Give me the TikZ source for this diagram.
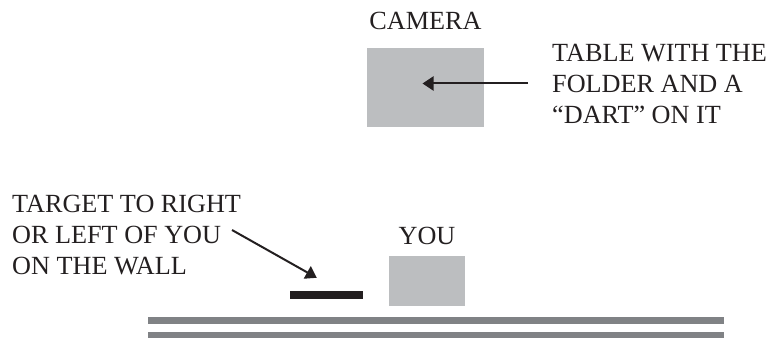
\documentclass[tikz,border=0pt]{standalone}
\usepackage{fontspec}
\setmainfont{Liberation Serif}
\usepackage{xcolor}
\definecolor{cBox}{HTML}{BCBEC0}
\definecolor{cWall}{HTML}{808285}
\definecolor{cInk}{HTML}{231F20}
\usepackage{tikz}
\usetikzlibrary{positioning,arrows.meta}
\tikzset{
  box-gray/.style={fill=cBox,draw=none,inner sep=0pt},
  lbl/.style={inner sep=0pt,text=cInk,font=\fontsize{26.2}{31}\selectfont},
  lbl-block/.style={lbl,align=left},
  bar-target/.style={fill=cInk,draw=none,inner sep=0pt,
    minimum width=73pt,minimum height=8pt},
  wall-line/.style={fill=cWall,draw=none,inner sep=0pt,
    minimum width=576pt,minimum height=6.5pt},
  arrow-point/.style={-{Triangle[length=11pt,width=14pt]},line width=2pt,draw=cInk},
}
\begin{document}
\begin{tikzpicture}[x=1pt,y=-1pt]
  \useasboundingbox (0,0) rectangle (769,339);
  % table with the camera on top
  \node[box-gray,minimum width=117pt,minimum height=79pt] (table) at (425.5,87.5) {};
  \node[lbl,above=18pt of table] (camlabel) {CAMERA};
  \node[lbl-block,anchor=west] (tabletext) at (552,83.5)
    {TABLE WITH THE\\FOLDER AND A\\“DART” ON IT};
  \draw[arrow-point] ([xshift=-24pt]tabletext.west) -- ([xshift=-3pt]tabletext.west -| table.center);
  % you and the target
  \node[box-gray,minimum width=76pt,minimum height=50pt] (you) at (427,281) {};
  \node[lbl,above=11pt of you] (youlabel) {YOU};
  \node[bar-target] (target) at (326.5,295) {};
  \node[lbl-block,anchor=west] (targettext) at (12,235)
    {TARGET TO RIGHT\\OR LEFT OF YOU\\ON THE WALL};
  \coordinate (tgtstart) at (232,230);
  \draw[arrow-point] (tgtstart) -- ([xshift=27pt,yshift=13pt]target.north west);
  % wall
  \node[wall-line] (wall1) at (436,320.5) {};
  \node[wall-line] (wall2) at (436,335) {};
\end{tikzpicture}
\end{document}
